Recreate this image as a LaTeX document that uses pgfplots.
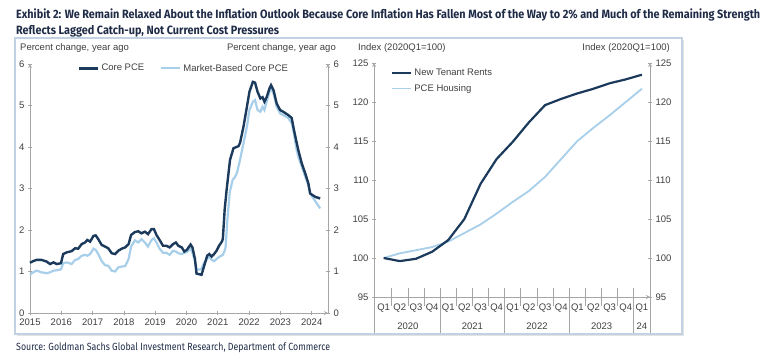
\documentclass[border=0pt]{standalone}
\usepackage{graphicx}
\usepackage{pgfplots}
\usepackage{pgfplotstable}
\pgfplotsset{compat=1.18}
\usepackage{fontspec}
\setmainfont{Liberation Sans}
\newfontfamily\firafont{Fira Sans}
\definecolor{navy}{HTML}{1B3A5C}
\definecolor{lightb}{HTML}{A8CFEA}
\definecolor{axgray}{HTML}{A6A6A6}
\definecolor{txt}{HTML}{404040}
\definecolor{titlec}{HTML}{1F2B47}
\definecolor{framec}{HTML}{C3D2E2}

\pgfplotstableread{
t v
2015.00 1.21
2015.10 1.25
2015.21 1.28
2015.37 1.28
2015.53 1.24
2015.64 1.18
2015.75 1.22
2015.85 1.18
2015.99 1.20
2016.06 1.42
2016.17 1.46
2016.33 1.49
2016.44 1.56
2016.54 1.55
2016.65 1.66
2016.76 1.70
2016.83 1.76
2016.92 1.72
2017.03 1.86
2017.10 1.87
2017.18 1.78
2017.29 1.64
2017.40 1.60
2017.50 1.56
2017.61 1.44
2017.72 1.42
2017.82 1.50
2017.93 1.55
2018.04 1.58
2018.15 1.66
2018.23 1.88
2018.35 1.95
2018.46 1.97
2018.56 1.92
2018.67 1.96
2018.77 1.90
2018.88 2.02
2018.96 2.02
2019.04 1.88
2019.14 1.76
2019.25 1.62
2019.36 1.62
2019.46 1.58
2019.57 1.66
2019.66 1.70
2019.74 1.62
2019.85 1.58
2019.93 1.48
2020.01 1.52
2020.13 1.65
2020.19 1.58
2020.27 1.30
2020.32 0.95
2020.43 0.93
2020.48 0.92
2020.55 1.10
2020.66 1.38
2020.73 1.42
2020.80 1.36
2020.88 1.42
2020.96 1.50
2021.04 1.62
2021.13 1.72
2021.16 1.78
2021.22 2.50
2021.28 2.96
2021.39 3.69
2021.50 3.97
2021.66 4.02
2021.71 4.10
2021.82 4.49
2021.93 4.97
2022.01 5.33
2022.12 5.57
2022.19 5.55
2022.27 5.33
2022.36 5.17
2022.43 5.20
2022.49 5.09
2022.56 5.20
2022.65 5.41
2022.70 5.49
2022.78 5.37
2022.88 5.05
2022.99 4.89
2023.09 4.85
2023.25 4.77
2023.36 4.70
2023.43 4.42
2023.50 4.17
2023.57 3.93
2023.68 3.61
2023.79 3.37
2023.89 3.13
2023.95 2.88
2024.11 2.80
2024.27 2.76
}\corepce

\pgfplotstableread{
t v
2015.00 0.92
2015.10 0.98
2015.21 1.02
2015.37 0.98
2015.53 0.96
2015.64 0.98
2015.75 1.02
2015.85 1.03
2015.99 1.05
2016.06 1.20
2016.17 1.22
2016.33 1.18
2016.44 1.28
2016.54 1.30
2016.65 1.38
2016.76 1.40
2016.83 1.38
2016.92 1.42
2017.03 1.55
2017.10 1.52
2017.18 1.42
2017.29 1.25
2017.40 1.15
2017.50 1.14
2017.61 1.02
2017.72 1.00
2017.82 1.10
2017.93 1.12
2018.04 1.13
2018.15 1.30
2018.23 1.60
2018.35 1.75
2018.46 1.70
2018.56 1.78
2018.67 1.70
2018.77 1.60
2018.88 1.76
2018.96 1.80
2019.04 1.70
2019.14 1.55
2019.25 1.45
2019.36 1.45
2019.46 1.40
2019.57 1.50
2019.66 1.48
2019.74 1.44
2019.85 1.42
2019.93 1.45
2020.01 1.47
2020.13 1.55
2020.19 1.45
2020.27 1.25
2020.32 1.05
2020.43 1.05
2020.48 1.06
2020.55 1.20
2020.66 1.30
2020.73 1.38
2020.80 1.28
2020.88 1.25
2020.96 1.30
2021.04 1.35
2021.16 1.40
2021.22 1.50
2021.25 1.60
2021.30 2.20
2021.38 2.90
2021.47 3.20
2021.55 3.28
2021.61 3.37
2021.71 3.69
2021.82 4.09
2021.93 4.49
2022.01 4.89
2022.12 5.09
2022.19 5.13
2022.27 4.89
2022.36 4.85
2022.43 4.97
2022.49 4.89
2022.56 5.09
2022.65 5.33
2022.70 5.41
2022.78 5.29
2022.88 4.97
2022.99 4.81
2023.09 4.77
2023.25 4.70
2023.36 4.57
2023.43 4.33
2023.50 4.00
2023.57 3.77
2023.68 3.53
2023.79 3.29
2023.89 3.09
2023.95 2.88
2024.11 2.70
2024.27 2.52
}\marketpce

\pgfplotstableread{
q rent housing
0 100.0 100.0
1 99.6 100.6
2 99.9 101.0
3 100.8 101.4
4 102.3 102.1
5 105.0 103.2
6 109.5 104.3
7 112.7 105.7
8 114.9 107.2
9 117.4 108.6
10 119.6 110.4
11 120.4 112.7
12 121.1 115.0
13 121.7 116.7
14 122.4 118.3
15 122.9 120.0
16 123.5 121.7
}\housing

\pgfplotsset{
  base/.style={
    scale only axis, clip=false,
    axis line style={axgray, line width=0.8pt, -},
    every outer x axis line/.append style={-},
    every outer y axis line/.append style={-},
    tick style={axgray, line width=0.8pt},
    tick align=outside, major tick length=4pt,
    ticklabel style={font=\fontsize{9.5}{11}\selectfont, text=txt},
    /pgf/number format/assume math mode=true,
  },
}

\begin{document}
\begin{tikzpicture}
\useasboundingbox (0pt,0pt) rectangle (762pt,362pt);
% frame
\fill[gray!22] (17pt,26pt) rectangle (684pt,322pt);
\filldraw[fill=white, draw=framec, line width=1.2pt] (15pt,28pt) rectangle (682pt,324pt);
% titles
\node[anchor=base west, inner sep=0, text=titlec] at (16pt,343.7pt)
  {\resizebox{744pt}{\height}{\fontsize{12}{13}\firafont\bfseries Exhibit 2: We Remain Relaxed About the Inflation Outlook Because Core Inflation Has Fallen Most of the Way to 2\% and Much of the Remaining Strength}};
\node[anchor=base west, inner sep=0, text=titlec] at (16pt,327.7pt)
  {\resizebox{263pt}{\height}{\fontsize{12}{13}\firafont\bfseries Reflects Lagged Catch-up, Not Current Cost Pressures}};
\node[anchor=base west, inner sep=0, text=titlec] at (16pt,12pt)
  {\resizebox{314pt}{\height}{\fontsize{10.4}{12}\firafont Source: Goldman Sachs Global Investment Research, Department of Commerce}};
% axis unit labels
\begin{scope}[every node/.style={inner sep=0, text=txt, font=\fontsize{9.5}{11}\selectfont}]
\node[anchor=base west] at (20pt,311pt) {Percent change, year ago};
\node[anchor=base east] at (336pt,311pt) {Percent change, year ago};
\node[anchor=base west] at (358pt,311pt) {Index (2020Q1=100)};
\node[anchor=base east] at (670pt,311pt) {Index (2020Q1=100)};
\end{scope}

% ---------- left chart ----------
\begin{axis}[base, at={(30pt,49pt)}, anchor=south west, width=298pt, height=249pt,
  xmin=2015, xmax=2024.52, ymin=0, ymax=6,
  axis x line=bottom, axis y line=left,
  xtick={2015,2016,...,2024}, ytick={0,1,...,6},
  x tick label style={/pgf/number format/1000 sep={}},
  legend style={at={(0.517,1)}, anchor=north, yshift=4pt, draw=none, fill=none,
    font=\fontsize{9.5}{11}\selectfont, text=txt, legend columns=2,
    /tikz/every even column/.append style={column sep=14pt}},
  legend image code/.code={\draw[#1] (0pt,0pt) -- (19pt,0pt);},
  legend cell align=left]
\addlegendimage{navy, line width=2.4pt}
\addlegendentry{Core PCE}
\addlegendimage{lightb, line width=2.2pt}
\addlegendentry{Market-Based Core PCE}
\addplot[lightb, line width=2.2pt, forget plot] table[x=t, y=v] {\marketpce};
\addplot[navy, line width=2.4pt, forget plot] table[x=t, y=v] {\corepce};
\end{axis}
\begin{axis}[base, at={(30pt,49pt)}, anchor=south west, width=298pt, height=249pt,
  xmin=2015, xmax=2024.52, ymin=0, ymax=6,
  axis x line=none, axis y line=right, ytick={0,1,...,6}]
\end{axis}

% ---------- right chart ----------
\begin{axis}[base, at={(374pt,65pt)}, anchor=south west, width=276pt, height=234pt,
  xmin=-0.6, xmax=16.5, ymin=95, ymax=125, ytick={95,100,...,125},
  axis x line=bottom, axis y line=left,
  xtick={0,1,...,16},
  xticklabels={Q1,Q2,Q3,Q4,Q1,Q2,Q3,Q4,Q1,Q2,Q3,Q4,Q1,Q2,Q3,Q4,Q1},
  major x tick style={draw=none},
  minor xtick={0.5,1.5,...,15.5}, minor tick length=18pt,
  x tick label style={yshift=-1pt},
  legend style={at={(14/276,1)}, anchor=north west, yshift=-2pt, draw=none, fill=none,
    font=\fontsize{9.5}{11}\selectfont, text=txt, row sep=3pt},
  legend image code/.code={\draw[#1] (0pt,0pt) -- (19pt,0pt);},
  legend cell align=left]
\addlegendimage{navy, line width=2.2pt}
\addlegendentry{New Tenant Rents}
\addlegendimage{lightb, line width=1.8pt}
\addlegendentry{PCE Housing}
\addplot[lightb, line width=1.8pt, forget plot] table[x=q, y=housing] {\housing};
\addplot[navy, line width=2.2pt, forget plot] table[x=q, y=rent] {\housing};
\pgfplotsinvokeforeach{-0.6,3.5,7.5,11.5,15.5,16.5}{
  \draw[axgray, line width=0.8pt] (axis cs:#1,95) -- ([yshift=-36pt]axis cs:#1,95);
}
\begin{scope}[every node/.style={text=txt, font=\fontsize{9.5}{11}\selectfont}]
\node at ([yshift=-29pt]axis cs:1.5,95) {2020};
\node at ([yshift=-29pt]axis cs:5.5,95) {2021};
\node at ([yshift=-29pt]axis cs:9.5,95) {2022};
\node at ([yshift=-29pt]axis cs:13.5,95) {2023};
\node at ([yshift=-29pt]axis cs:16,95) {24};
\end{scope}
\end{axis}
\begin{axis}[base, at={(374pt,65pt)}, anchor=south west, width=276pt, height=234pt,
  xmin=-0.6, xmax=16.5, ymin=95, ymax=125, ytick={95,100,...,125},
  axis x line=none, axis y line=right]
\end{axis}
\end{tikzpicture}
\end{document}
